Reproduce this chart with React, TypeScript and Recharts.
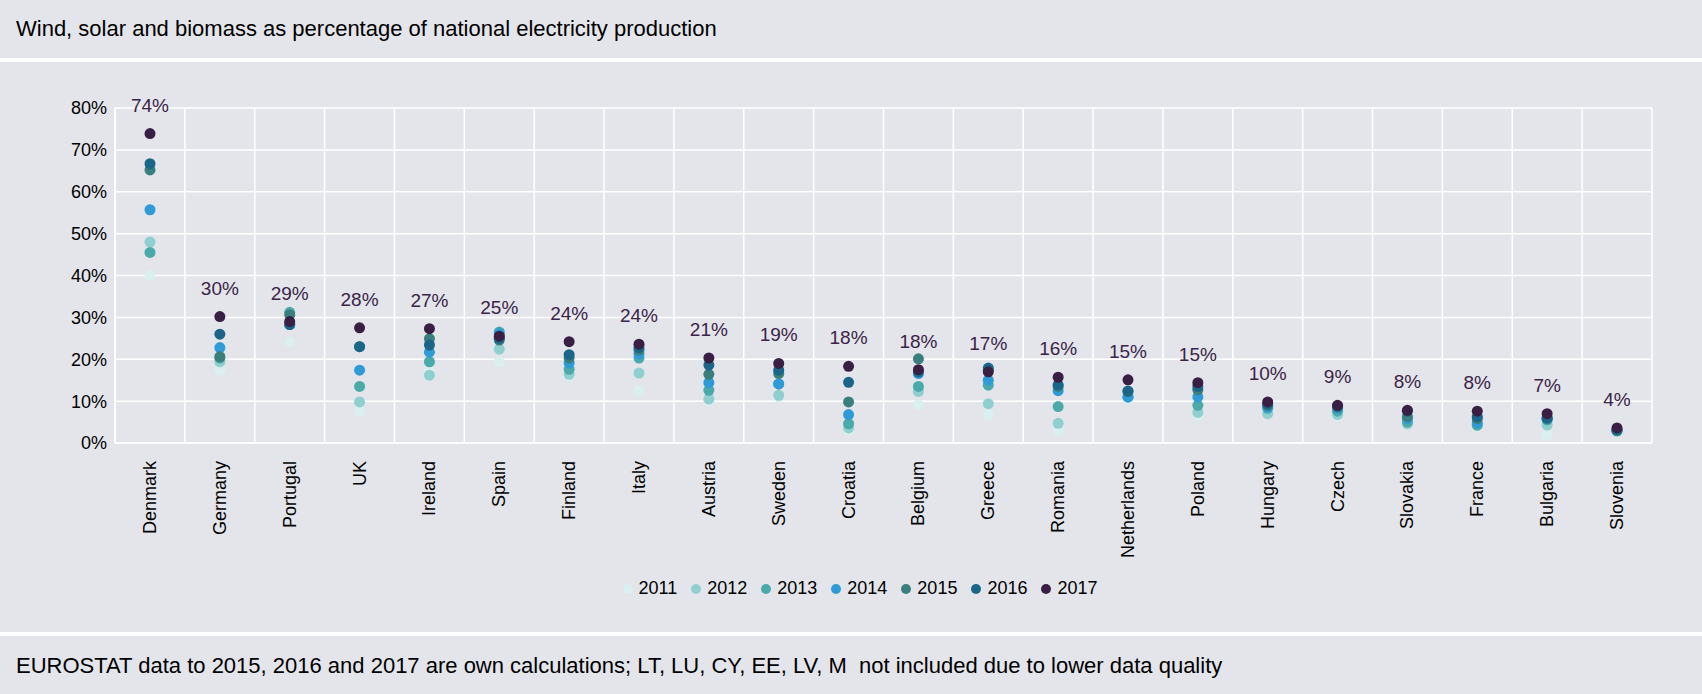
import { ComposedChart, Line, XAxis, YAxis, CartesianGrid, Legend, LabelList } from "recharts"

const countries = ["Denmark", "Germany", "Portugal", "UK", "Ireland", "Spain", "Finland", "Italy", "Austria", "Sweden", "Croatia", "Belgium", "Greece", "Romania", "Netherlands", "Poland", "Hungary", "Czech", "Slovakia", "France", "Bulgaria", "Slovenia"]

const y2011 = [40, 17.4, 24.2, 7.7, 17, 19.4, 16, 12.4, 10, 11, 3, 9.1, 6.8, 3, 10.5, 6.6, 7, 6.5, 4.5, 4, 2, 2.8]
const y2012 = [48, 19.4, 28.5, 9.8, 16.2, 22.4, 16.4, 16.7, 10.5, 11.4, 3.6, 12.3, 9.4, 4.7, 11, 7.3, 7, 6.8, 4.6, 4.2, 4.3, 2.8]
const y2013 = [45.5, 20.3, 31.2, 13.5, 19.4, 26.5, 17.6, 20.3, 12.6, 14.1, 4.6, 13.5, 13.8, 8.7, 11, 9, 8.3, 7.6, 5, 4.3, 5.5, 2.9]
const y2014 = [55.7, 22.8, 28.3, 17.4, 21.7, 26.1, 19.1, 21.3, 14.4, 14.1, 6.8, 16.6, 15, 12.5, 11, 11, 8.6, 8.3, 5.8, 4.8, 5.8, 3]
const y2015 = [65.2, 20.6, 30.6, 23, 24.9, 24.6, 20.3, 22.2, 16.4, 16.6, 9.8, 20.1, 17.5, 13.5, 12.3, 12.7, 9, 8.6, 6.3, 5.8, 5.8, 3]
const y2016 = [66.7, 26, 28.3, 23, 23.4, 25, 21.1, 22.8, 18.6, 17.4, 14.5, 17, 17.9, 13.9, 12.4, 13.5, 9.3, 8.8, 7.6, 6.3, 6, 3.2]
const y2017 = [73.9, 30.2, 29, 27.5, 27.3, 25.5, 24.2, 23.6, 20.3, 19, 18.3, 17.5, 17, 15.7, 15.1, 14.4, 9.8, 9, 7.8, 7.6, 7, 3.6]
const topLabels = ["74%", "30%", "29%", "28%", "27%", "25%", "24%", "24%", "21%", "19%", "18%", "18%", "17%", "16%", "15%", "15%", "10%", "9%", "8%", "8%", "7%", "4%"]
const yTicks = [0, 10, 20, 30, 40, 50, 60, 70, 80]

const series = [
  { key: "2011", values: y2011, color: "#d9eff0" },
  { key: "2012", values: y2012, color: "#8fcfd0" },
  { key: "2013", values: y2013, color: "#4aaaa9" },
  { key: "2014", values: y2014, color: "#2e9ad6" },
  { key: "2015", values: y2015, color: "#3a7e7d" },
  { key: "2016", values: y2016, color: "#1b6688" },
  { key: "2017", values: y2017, color: "#3a1f45" },
]

const data = countries.map((c, i) => {
  const row: Record<string, string | number> = { country: c, label: topLabels[i] }
  series.forEach((s) => (row[s.key] = s.values[i]))
  return row
})

const font = "'Liberation Sans', Arial, sans-serif"
const bg = "#e4e5ea"

const TopLabel = (props: any) => {
  const { x, y, index } = props
  return (
    <text x={x} y={y - 22} textAnchor="middle" fontSize={19} fill="#3a2448" fontFamily={font}>
      {topLabels[index]}
    </text>
  )
}

const XTick = (props: any) => {
  const { x, y, payload } = props
  return (
    <text x={x} y={y + 10} transform={`rotate(-90 ${x} ${y + 10})`} textAnchor="end" dominantBaseline="central" fontSize={18} fill="#000" fontFamily={font}>
      {payload.value}
    </text>
  )
}

const LegendContent = () => (
  <div style={{ display: "flex", justifyContent: "center", gap: 14, fontSize: 18, fontFamily: font, color: "#000" }}>
    {series.map((s) => (
      <span key={s.key} style={{ display: "flex", alignItems: "center", gap: 6 }}>
        <span style={{ width: 10, height: 10, borderRadius: 5, background: s.color, display: "inline-block" }} />
        {s.key}
      </span>
    ))}
  </div>
)

export default function App() {
  return (
    <div style={{ position: "absolute", left: 0, top: 0, width: 1702, height: 694, background: "#fff", fontFamily: font }}>
      <div style={{ position: "absolute", left: 0, top: 0, width: 1702, height: 58, background: bg }}>
        <div style={{ position: "absolute", left: 16, top: 16, fontSize: 22, color: "#000" }}>
          Wind, solar and biomass as percentage of national electricity production
        </div>
      </div>
      <div style={{ position: "absolute", left: 0, top: 62, width: 1702, height: 570, background: bg }}>
        <ComposedChart width={1702} height={570} data={data} margin={{ top: 46, right: 50, bottom: 56, left: 55 }}>
          <CartesianGrid
            stroke="#ffffff"
            strokeWidth={1.5}
            verticalCoordinatesGenerator={({ offset }: any) =>
              countries.map((_, i) => offset.left + (offset.width * i) / countries.length).concat(offset.left + offset.width)
            }
          />
          <XAxis dataKey="country" interval={0} tick={<XTick />} tickLine={false} axisLine={{ stroke: "#fff" }} height={112} padding={{ left: 35, right: 35 }} />
          <YAxis
            domain={[0, 80]}
            ticks={yTicks}
            tickFormatter={(v) => `${v}%`}
            tick={{ fontSize: 18, fill: "#000", fontFamily: font }}
            tickLine={false}
            axisLine={{ stroke: "#fff" }}
            width={60}
          />
          <Legend content={<LegendContent />} wrapperStyle={{ top: 516, left: 560, width: 600 }} />
          {series.map((s) => (
            <Line
              key={s.key}
              dataKey={s.key}
              name={s.key}
              stroke="none"
              fill={s.color}
              dot={{ r: 5.5, fill: s.color, stroke: "none" }}
              activeDot={false}
              isAnimationActive={false}
            >
              {s.key === "2017" && <LabelList dataKey="label" content={<TopLabel />} />}
            </Line>
          ))}
        </ComposedChart>
      </div>
      <div style={{ position: "absolute", left: 0, top: 636, width: 1702, height: 58, background: bg }}>
        <div style={{ position: "absolute", left: 16, top: 17, fontSize: 22, color: "#000" }}>
          EUROSTAT data to 2015, 2016 and 2017 are own calculations; LT, LU, CY, EE, LV, M&nbsp; not included due to lower data quality
        </div>
      </div>
    </div>
  )
}
